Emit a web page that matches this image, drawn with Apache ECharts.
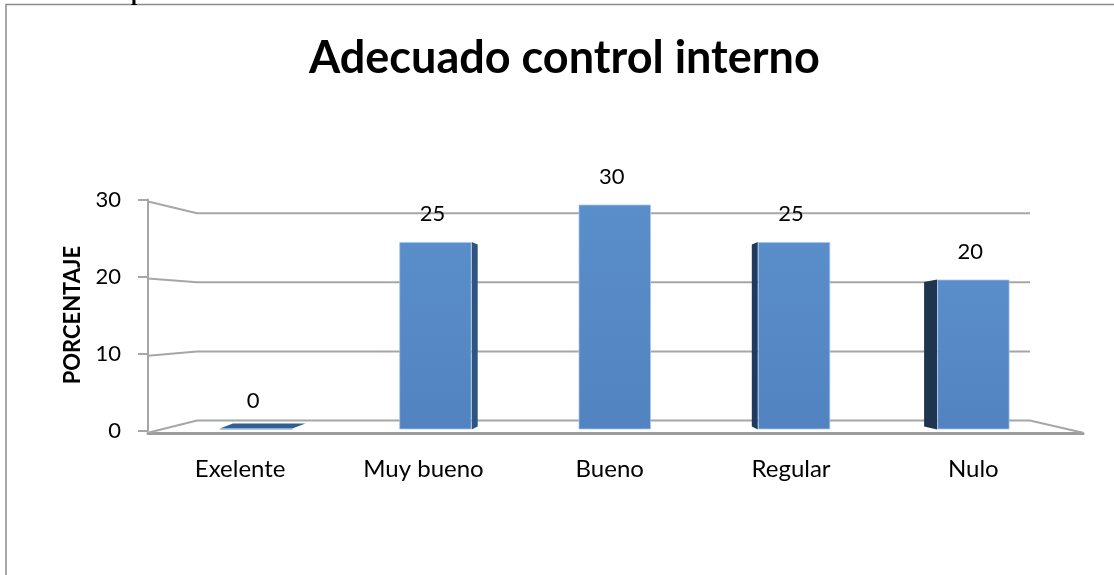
<!DOCTYPE html>
<html>
<head>
<meta charset="utf-8">
<style>
  html, body { margin: 0; padding: 0; background: #fff; }
  #chart { width: 1114px; height: 575px; }
</style>
<script src="https://cdn.jsdelivr.net/npm/echarts@6/dist/echarts.min.js"></script>
</head>
<body>
<div id="chart"></div>
<script>
// Survey results: share of answers per rating
const chartTitle = 'Adecuado control interno';
const axisTitle = 'PORCENTAJE';
const categories = ['Exelente', 'Muy bueno', 'Bueno', 'Regular', 'Nulo'];
const percentages = [0, 25, 30, 25, 20];
const tickValues = [0, 10, 20, 30];

// Drawing constants for the pseudo-3D box
const FONT = 'Lato, "Noto Sans", sans-serif';
const LINE = '#a6a6a6';
const barDepth = [13, 6, 0, -6, -13];
const depthColor = ['#2f5f96', '#2f5482', '#2f5482', '#1f3a5c', '#1f344f'];
const labelNudge = [32, 24, 10, 6, 0];
const backLeft = 0.0524;
const backRight = 0.9433;
const backValue = v => 1.33 + v * 0.896;

const chart = echarts.init(document.getElementById('chart'), null, { renderer: 'canvas' });

// Floor and wall outlines: each level runs from the front axis to the back wall
function renderWall(params, api) {
  const v = api.value(0);
  const start = api.coord([0, v]);
  const corner = api.coord([backLeft, backValue(v)]);
  const end = api.coord([backRight, backValue(v)]);
  const points = [[start[0], start[1] + 2], corner, end];
  if (v === 0) {
    const floorEnd = api.coord([1, 0]);
    points.push([floorEnd[0], floorEnd[1] + 2]);
  }
  return {
    type: 'polyline',
    shape: { points: points },
    style: { stroke: LINE, lineWidth: 2, fill: null }
  };
}

// Side face of each column; a zero-height column only shows its top face
function renderDepth(params, api) {
  const i = api.value(0);
  const v = api.value(1);
  const top = api.coord([i, v]);
  const base = api.coord([i, 0]);
  const half = api.size([1, 0])[0] * 0.2022;
  const d = barDepth[i];
  const edge = base[0] + (d > 0 ? half : -half);
  let points;
  if (v === 0) {
    points = [
      [base[0] - half, base[1] - 1],
      [base[0] + half, base[1] - 1],
      [base[0] + half + d, base[1] - 6],
      [base[0] - half + d, base[1] - 6]
    ];
  } else {
    points = [
      [edge, top[1]],
      [edge + d, top[1] + 2.5],
      [edge + d, base[1] - 3],
      [edge, base[1]]
    ];
  }
  return {
    type: 'polygon',
    shape: { points: points },
    style: { fill: depthColor[i] }
  };
}

chart.setOption({
  animation: false,
  backgroundColor: '#ffffff',
  title: {
    text: chartTitle,
    left: 309,
    top: 36,
    padding: 0,
    textStyle: { fontFamily: FONT, fontWeight: 'bold', fontSize: 45, color: '#000' }
  },
  graphic: [
    {
      type: 'rect',
      silent: true,
      shape: { x: 6, y: 4.5, width: 1400, height: 800 },
      style: { fill: null, stroke: '#8c8c8c', lineWidth: 1.5 }
    },
    {
      type: 'text',
      silent: true,
      style: { text: 'p', x: 131, y: -17, font: 'bold 22px "Liberation Serif"', fill: '#000' }
    }
  ],
  grid: [
    { left: 148, right: 31, top: 199.5, height: 231.2 },
    { left: 166.5, width: 896.5, top: 204.5, height: 225 }
  ],
  xAxis: [
    {
      type: 'value', gridIndex: 0, min: 0, max: 1, offset: 3,
      axisLabel: { show: false }, axisTick: { show: false }, splitLine: { show: false },
      axisLine: { show: true, onZero: false, lineStyle: { color: '#9c9c9c', width: 3 } }
    },
    {
      type: 'category', gridIndex: 1,
      data: categories.map((name, i) => ({
        value: name,
        textStyle: { padding: [0, labelNudge[i], 0, 0] }
      })),
      axisLine: { show: false }, axisTick: { show: false },
      axisLabel: { margin: 28, fontFamily: FONT, fontSize: 24, color: '#000', interval: 0 }
    }
  ],
  yAxis: [
    {
      type: 'value', gridIndex: 0, min: 0, max: 30, interval: 10,
      name: axisTitle, nameLocation: 'middle', nameGap: 64, nameRotate: 90,
      nameTextStyle: { fontFamily: FONT, fontWeight: 'bold', fontSize: 22, color: '#000' },
      axisLine: { show: true, onZero: false, lineStyle: { color: LINE, width: 2 } },
      axisTick: { show: true, length: 10, lineStyle: { color: LINE, width: 2 } },
      axisLabel: { margin: 27, fontFamily: FONT, fontSize: 22, color: '#000' },
      splitLine: { show: false }
    },
    {
      type: 'value', gridIndex: 1, min: 0, max: 30, show: false, splitLine: { show: false }
    }
  ],
  series: [
    {
      type: 'custom', name: 'wall', xAxisIndex: 0, yAxisIndex: 0, z: 1, silent: true,
      data: tickValues.map(v => [v]),
      encode: { y: 0 },
      renderItem: renderWall
    },
    {
      type: 'custom', name: 'depth', xAxisIndex: 1, yAxisIndex: 1, z: 2, silent: true,
      data: percentages.map((v, i) => [i, v]),
      encode: { x: 0, y: 1 },
      renderItem: renderDepth
    },
    {
      type: 'bar', name: axisTitle, xAxisIndex: 1, yAxisIndex: 1, z: 3,
      data: percentages,
      barWidth: 72.5,
      itemStyle: {
        color: new echarts.graphic.LinearGradient(0, 0, 0, 1, [
          { offset: 0, color: '#5a8ecb' },
          { offset: 1, color: '#5183c0' }
        ]),
        borderColor: 'rgba(165,198,236,0.75)',
        borderWidth: 1
      },
      label: {
        show: true, position: 'top', distance: 17, offset: [-3, 0],
        fontFamily: FONT, fontSize: 22, color: '#000'
      }
    }
  ]
});
</script>
</body>
</html>
